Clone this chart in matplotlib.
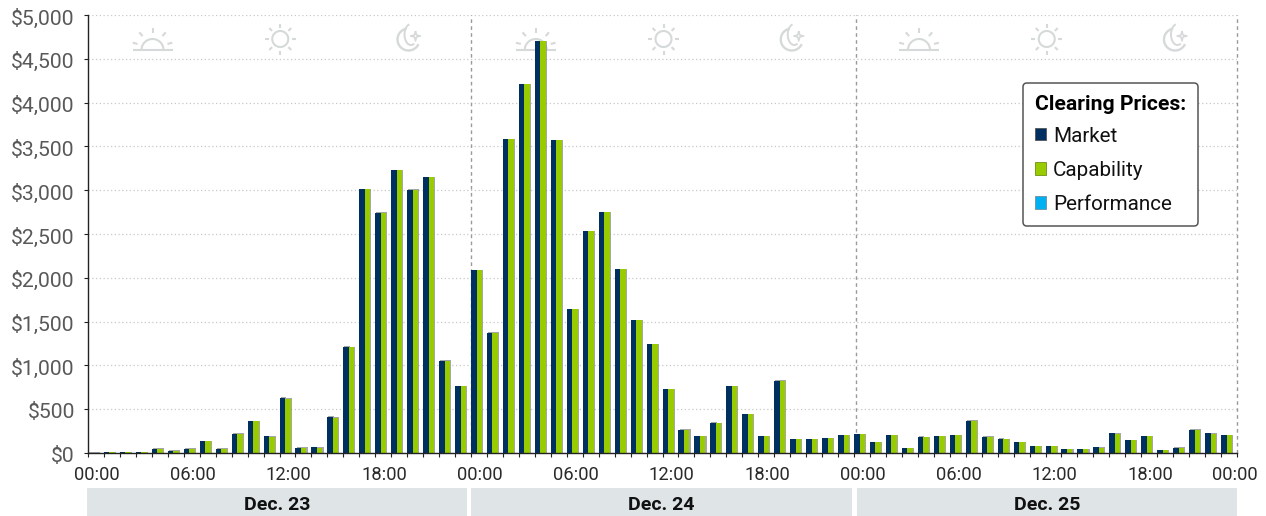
import matplotlib
matplotlib.use("Agg")
import matplotlib.pyplot as plt
import matplotlib.patheffects as pe
from matplotlib.patches import Patch, Rectangle
from matplotlib.lines import Line2D
from matplotlib.transforms import blended_transform_factory, Affine2D
import numpy as np

plt.rcParams['font.family'] = ['Roboto', 'DejaVu Sans']

market = [5, 10, 10, 10, 50, 25, 50, 135, 50, 220, 365, 195, 630, 60, 70, 415, 1215, 3015, 2745, 3225, 3005, 3150, 1055, 765,
          2085, 1375, 3585, 4210, 4700, 3570, 1640, 2530, 2750, 2095, 1520, 1240, 730, 265, 195, 345, 765, 440, 195, 825, 160, 160, 170, 200,
          215, 120, 200, 55, 185, 190, 200, 370, 185, 165, 125, 80, 80, 45, 40, 65, 225, 145, 190, 35, 60, 265, 225, 200]
capability = [5, 10, 10, 10, 50, 25, 50, 135, 50, 220, 360, 185, 620, 60, 60, 405, 1210, 3010, 2745, 3225, 3005, 3150, 1055, 760,
              2085, 1375, 3585, 4210, 4700, 3570, 1640, 2530, 2750, 2095, 1520, 1240, 730, 265, 195, 340, 760, 440, 195, 825, 160, 160, 170, 200,
              215, 120, 200, 55, 180, 190, 200, 370, 185, 160, 120, 80, 80, 40, 40, 60, 220, 145, 190, 35, 60, 265, 220, 200]
performance = [0, 0, 0, 0, 0, 0, 0, 0, 0, 0, 0, 0, 0, 0, 0, 0, 0, 0, 0, 0, 0, 0, 0, 0,
               0, 0, 0, 0, 0, 0, 0, 0, 0, 0, 0, 0, 0, 0, 0, 0, 0, 0, 0, 0, 0, 0, 0, 0,
               0, 0, 0, 0, 0, 0, 0, 0, 0, 0, 0, 0, 0, 0, 0, 0, 0, 0, 0, 0, 0, 0, 0, 0]
y_ticks = [0, 500, 1000, 1500, 2000, 2500, 3000, 3500, 4000, 4500, 5000]
x_tick_labels = ["00:00", "06:00", "12:00", "18:00"] * 3 + ["00:00"]
days = ["Dec. 23", "Dec. 24", "Dec. 25"]
series_names = ["Market", "Capability", "Performance"]

NAVY, GREEN, BLUE = '#00305F', '#99CC00', '#00B0F0'
ICON = '#D6D9D9'
W, H = 1266, 516
L, R, T, B = 88, 1237, 15, 453

fig = plt.figure(figsize=(W / 100, H / 100), dpi=100)
ax = fig.add_axes([L / W, 1 - B / H, (R - L) / W, (B - T) / H])
ax.set_xlim(0, 72)
ax.set_ylim(0, 5000)

hours = np.arange(len(market))
bw = 0.345
shadow = [pe.SimplePatchShadow(offset=(0.8, 0.25), shadow_rgbFace='#8a8a8a', alpha=0.75), pe.Normal()]
for offs, vals, col, name, shad in ((0, market, NAVY, series_names[0], True),
                                    (1, capability, GREEN, series_names[1], True),
                                    (2, performance, BLUE, series_names[2], False)):
    bars = ax.bar(hours + offs * bw, vals, width=bw, align='edge', color=col, lw=0, zorder=3, label=name)
    if shad:
        for b in bars:
            b.set_path_effects(shadow)

# grid
ax.set_yticks(y_ticks)
ax.set_yticklabels([f"${v:,}" for v in y_ticks], fontsize=15.2, color='#595959')
ax.yaxis.grid(True, color='#C8C8C8', lw=0.9, ls=(0, (1, 2)), zorder=0)
ax.set_axisbelow(True)
for x in (24, 48.13, 72):
    ax.axvline(x, color='#9a9a9a', lw=1.0, ls=(0, (2.6, 2.4)), zorder=2, clip_on=False)

# axes
for s in ('top', 'right'):
    ax.spines[s].set_visible(False)
for s in ('left', 'bottom'):
    ax.spines[s].set_color('#222222')
    ax.spines[s].set_linewidth(1.0)
ax.spines['bottom'].set_zorder(5)

# labels sit just to the right of their hour tick; the final one pulls back inside the frame
label_pos = [h + 0.55 for h in range(0, 72, 6)] + [71.88]
ax.set_xticks(label_pos)
ax.set_xticklabels(x_tick_labels, fontsize=13.2, color='#2a2a2a')
ax.set_xticks(np.arange(0, 73), minor=True)
ax.tick_params(axis='x', which='major', length=0, pad=9.2)
ax.tick_params(axis='x', which='minor', length=3.2, width=0.8, color='#222222')
ax.tick_params(axis='y', length=3.2, width=0.8, color='#222222', pad=6.2)
for lab in ax.get_yticklabels():
    lab.set_transform(lab.get_transform() + Affine2D().translate(0, -1.5))

# date bands
bx = blended_transform_factory(ax.transData, fig.transFigure)
y0 = 1 - 516 / H
y1 = 1 - 488 / H
band_edges = [(-0.06, 23.76), (24.0, 47.87), (48.17, 72.0)]
for (a, c), d in zip(band_edges, days):
    fig.add_artist(Rectangle((a, y0), c - a, y1 - y0, transform=bx, fc='#DFE4E6', ec='none'))
    fig.text((a + c) / 2, 1 - 504.5 / H, d, transform=bx, ha='center', va='center',
             fontsize=14.0, fontweight='bold', color='#111111')

# day-part icons (px offsets from the anchor, y downward)
def icon_tf(k, dx=0):
    return Affine2D().scale(1, -1).translate(152.5 + dx + k * 127.75, H - 39)

def seg(tf, xs, ys, lw=1.5):
    ax.add_line(Line2D(xs, ys, transform=tf, color=ICON, lw=lw, zorder=1, clip_on=False, solid_capstyle='butt'))

for day in range(3):
    tf = icon_tf(day * 3)
    seg(tf, [-20, 20], [11, 11])
    t = np.linspace(np.pi, 2 * np.pi, 40)
    seg(tf, 11 * np.cos(t), 11 + 11 * np.sin(t))
    for a in (-90, -50, -130, -15, -165):
        r = np.deg2rad(a)
        seg(tf, [15.5 * np.cos(r), 20.5 * np.cos(r)], [9 + 15.5 * np.sin(r), 9 + 20.5 * np.sin(r)])
    tf = icon_tf(day * 3 + 1)
    t = np.linspace(0, 2 * np.pi, 60)
    seg(tf, 8 * np.cos(t), 8 * np.sin(t))
    for a in np.arange(-90, 270, 45):
        r = np.deg2rad(a)
        seg(tf, [11.5 * np.cos(r), 15.5 * np.cos(r)], [11.5 * np.sin(r), 15.5 * np.sin(r)])
    tf = icon_tf(day * 3 + 2, dx=1.5)
    t = np.deg2rad(np.linspace(25, 260, 60))
    seg(tf, -1 + 11 * np.cos(t), 0.5 + 11 * np.sin(t), lw=1.7)
    t2 = np.deg2rad(np.linspace(255, 60, 30))
    seg(tf, 6.5 * np.cos(t2) + 1.5, -4.5 + 10.5 * np.sin(t2), lw=1.4)
    sx = [6, 7, 11, 7, 6, 5, 1, 5, 6]
    sy = [-8, -4, -3, -2, 2, -2, -3, -4, -8]
    seg(tf, sx, sy, lw=1.1)

# legend
handles = [Patch(fc=NAVY, ec='#555555', lw=0.6), Patch(fc=GREEN, ec='#6f8f10', lw=0.6), Patch(fc=BLUE, ec='#6a8fa0', lw=0.6)]
leg = fig.legend(handles, series_names, title="Clearing Prices:", loc='upper left',
                 bbox_to_anchor=(1023 / W, 1 - 83 / H), bbox_transform=fig.transFigure,
                 alignment='left', fontsize=14.9, title_fontproperties={'weight': 'bold', 'size': 15.2},
                 handlelength=0.54, handleheight=0.54, handletextpad=0.33, labelspacing=0.73,
                 borderpad=0.58, borderaxespad=0, frameon=True, fancybox=True, framealpha=1,
                 edgecolor='#555555', facecolor='white')
leg.get_frame().set_linewidth(1.1)
leg.set_zorder(10)
leg._legend_box.sep -= 1.8
for t in leg.get_texts():
    t.set_color('#111111')

fig.savefig('out.png', dpi=100)
